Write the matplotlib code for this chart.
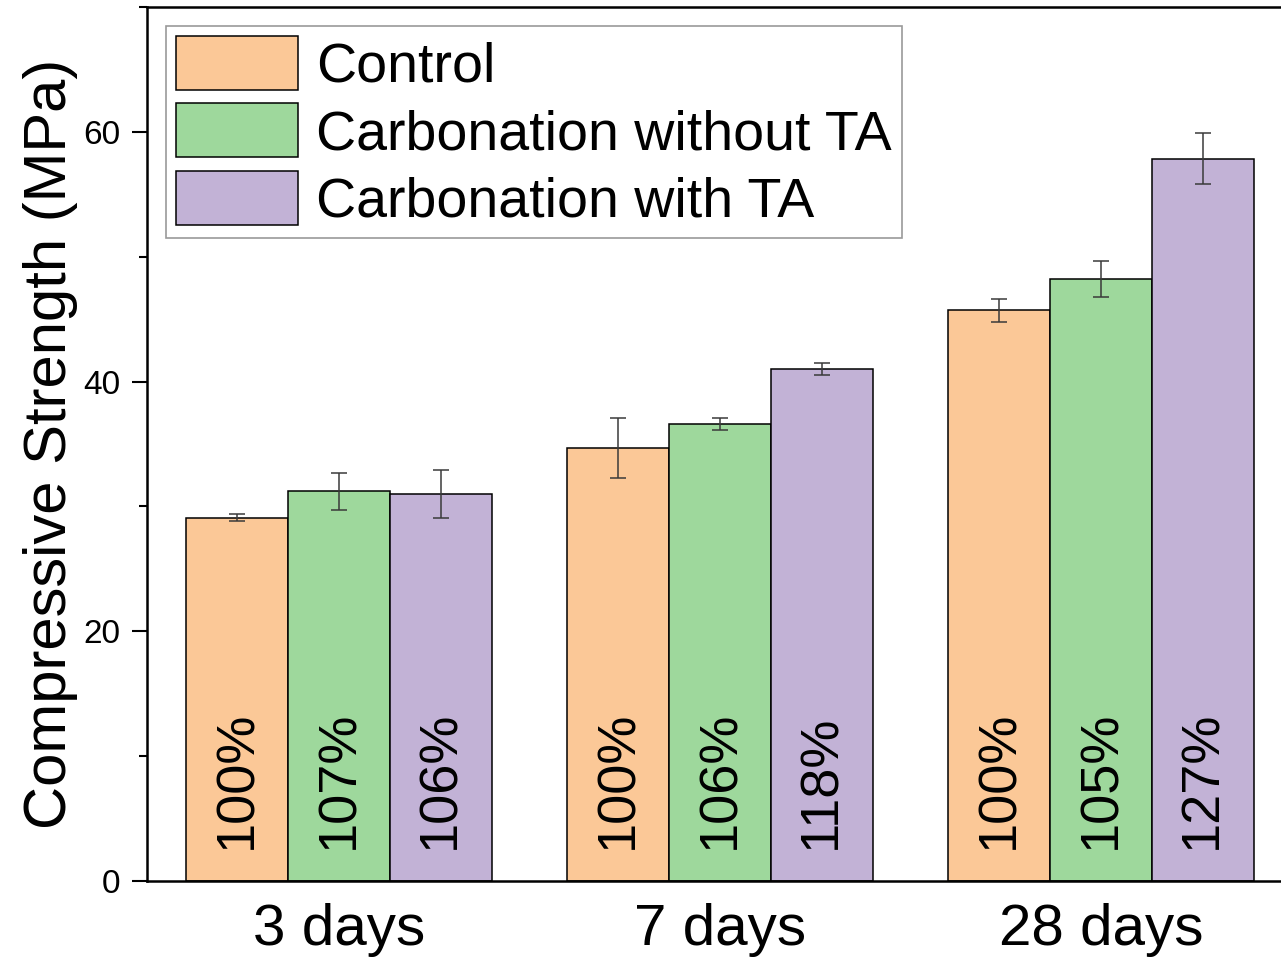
import matplotlib
matplotlib.use("Agg")
import matplotlib.pyplot as plt
from matplotlib.ticker import MultipleLocator
import numpy as np

plt.rcParams['font.family'] = ['Liberation Sans', 'DejaVu Sans']

groups = ["3 days", "7 days", "28 days"]
series = ["Control", "Carbonation without TA", "Carbonation with TA"]
control = [29.1, 34.7, 45.7]
control_err = [0.3, 2.4, 0.9]
carb_no_ta = [31.2, 36.6, 48.2]
carb_no_ta_err = [1.5, 0.5, 1.45]
carb_ta = [31.0, 41.0, 57.85]
carb_ta_err = [1.95, 0.45, 2.05]
pct_control = ["100%", "100%", "100%"]
pct_no_ta = ["107%", "106%", "105%"]
pct_ta = ["106%", "118%", "127%"]

colors = ["#FBC897", "#9ED89C", "#C2B2D6"]

W, H = 1281, 958
fig = plt.figure(figsize=(W / 100, H / 100), dpi=100)
ax_left, ax_right = 147, 147 + 1143
ax_top, ax_bot = 7, 881
ax = fig.add_axes([ax_left / W, 1 - ax_bot / H, (ax_right - ax_left) / W, (ax_bot - ax_top) / H])

x = np.arange(len(groups))
bw = 0.267
vals = [control, carb_no_ta, carb_ta]
errs = [control_err, carb_no_ta_err, carb_ta_err]
pcts = [pct_control, pct_no_ta, pct_ta]
for i in range(3):
    pos = x + (i - 1) * bw
    ax.bar(pos, vals[i], bw, color=colors[i], edgecolor='black', linewidth=1.1,
           label=series[i], zorder=2)
    ax.errorbar(pos, vals[i], yerr=errs[i], fmt='none', ecolor='#3a3a3a',
                elinewidth=1.1, capsize=6, capthick=1.1, zorder=3)
    for p, t in zip(pos, pcts[i]):
        ax.text(p, 2.6, t, rotation=90, ha='center', va='bottom', fontsize=39, zorder=4)

ax.set_xlim(-0.504, 2.496)
ax.set_ylim(0, 70)
ax.set_xticks(x)
ax.set_xticklabels(groups, fontsize=42)
ax.tick_params(axis='x', length=0, pad=16)
ax.yaxis.set_major_locator(MultipleLocator(20))
ax.yaxis.set_minor_locator(MultipleLocator(10))
ax.tick_params(axis='y', which='major', length=11, width=1.5, labelsize=24, pad=8, direction='out')
ax.tick_params(axis='y', which='minor', length=6, width=1.5, direction='out')
ax.set_ylabel("Compressive Strength (MPa)", fontsize=43, labelpad=4)
for s in ax.spines.values():
    s.set_linewidth(1.8)

leg = ax.legend(loc='upper left', fontsize=40, frameon=True, fancybox=False,
                handlelength=2.2, handleheight=1.12, labelspacing=0.17,
                handletextpad=0.33, borderpad=0.17, borderaxespad=0.35)
leg.get_frame().set_edgecolor('#808080')
leg.get_frame().set_linewidth(1.2)

fig.savefig("out.png", dpi=100)
